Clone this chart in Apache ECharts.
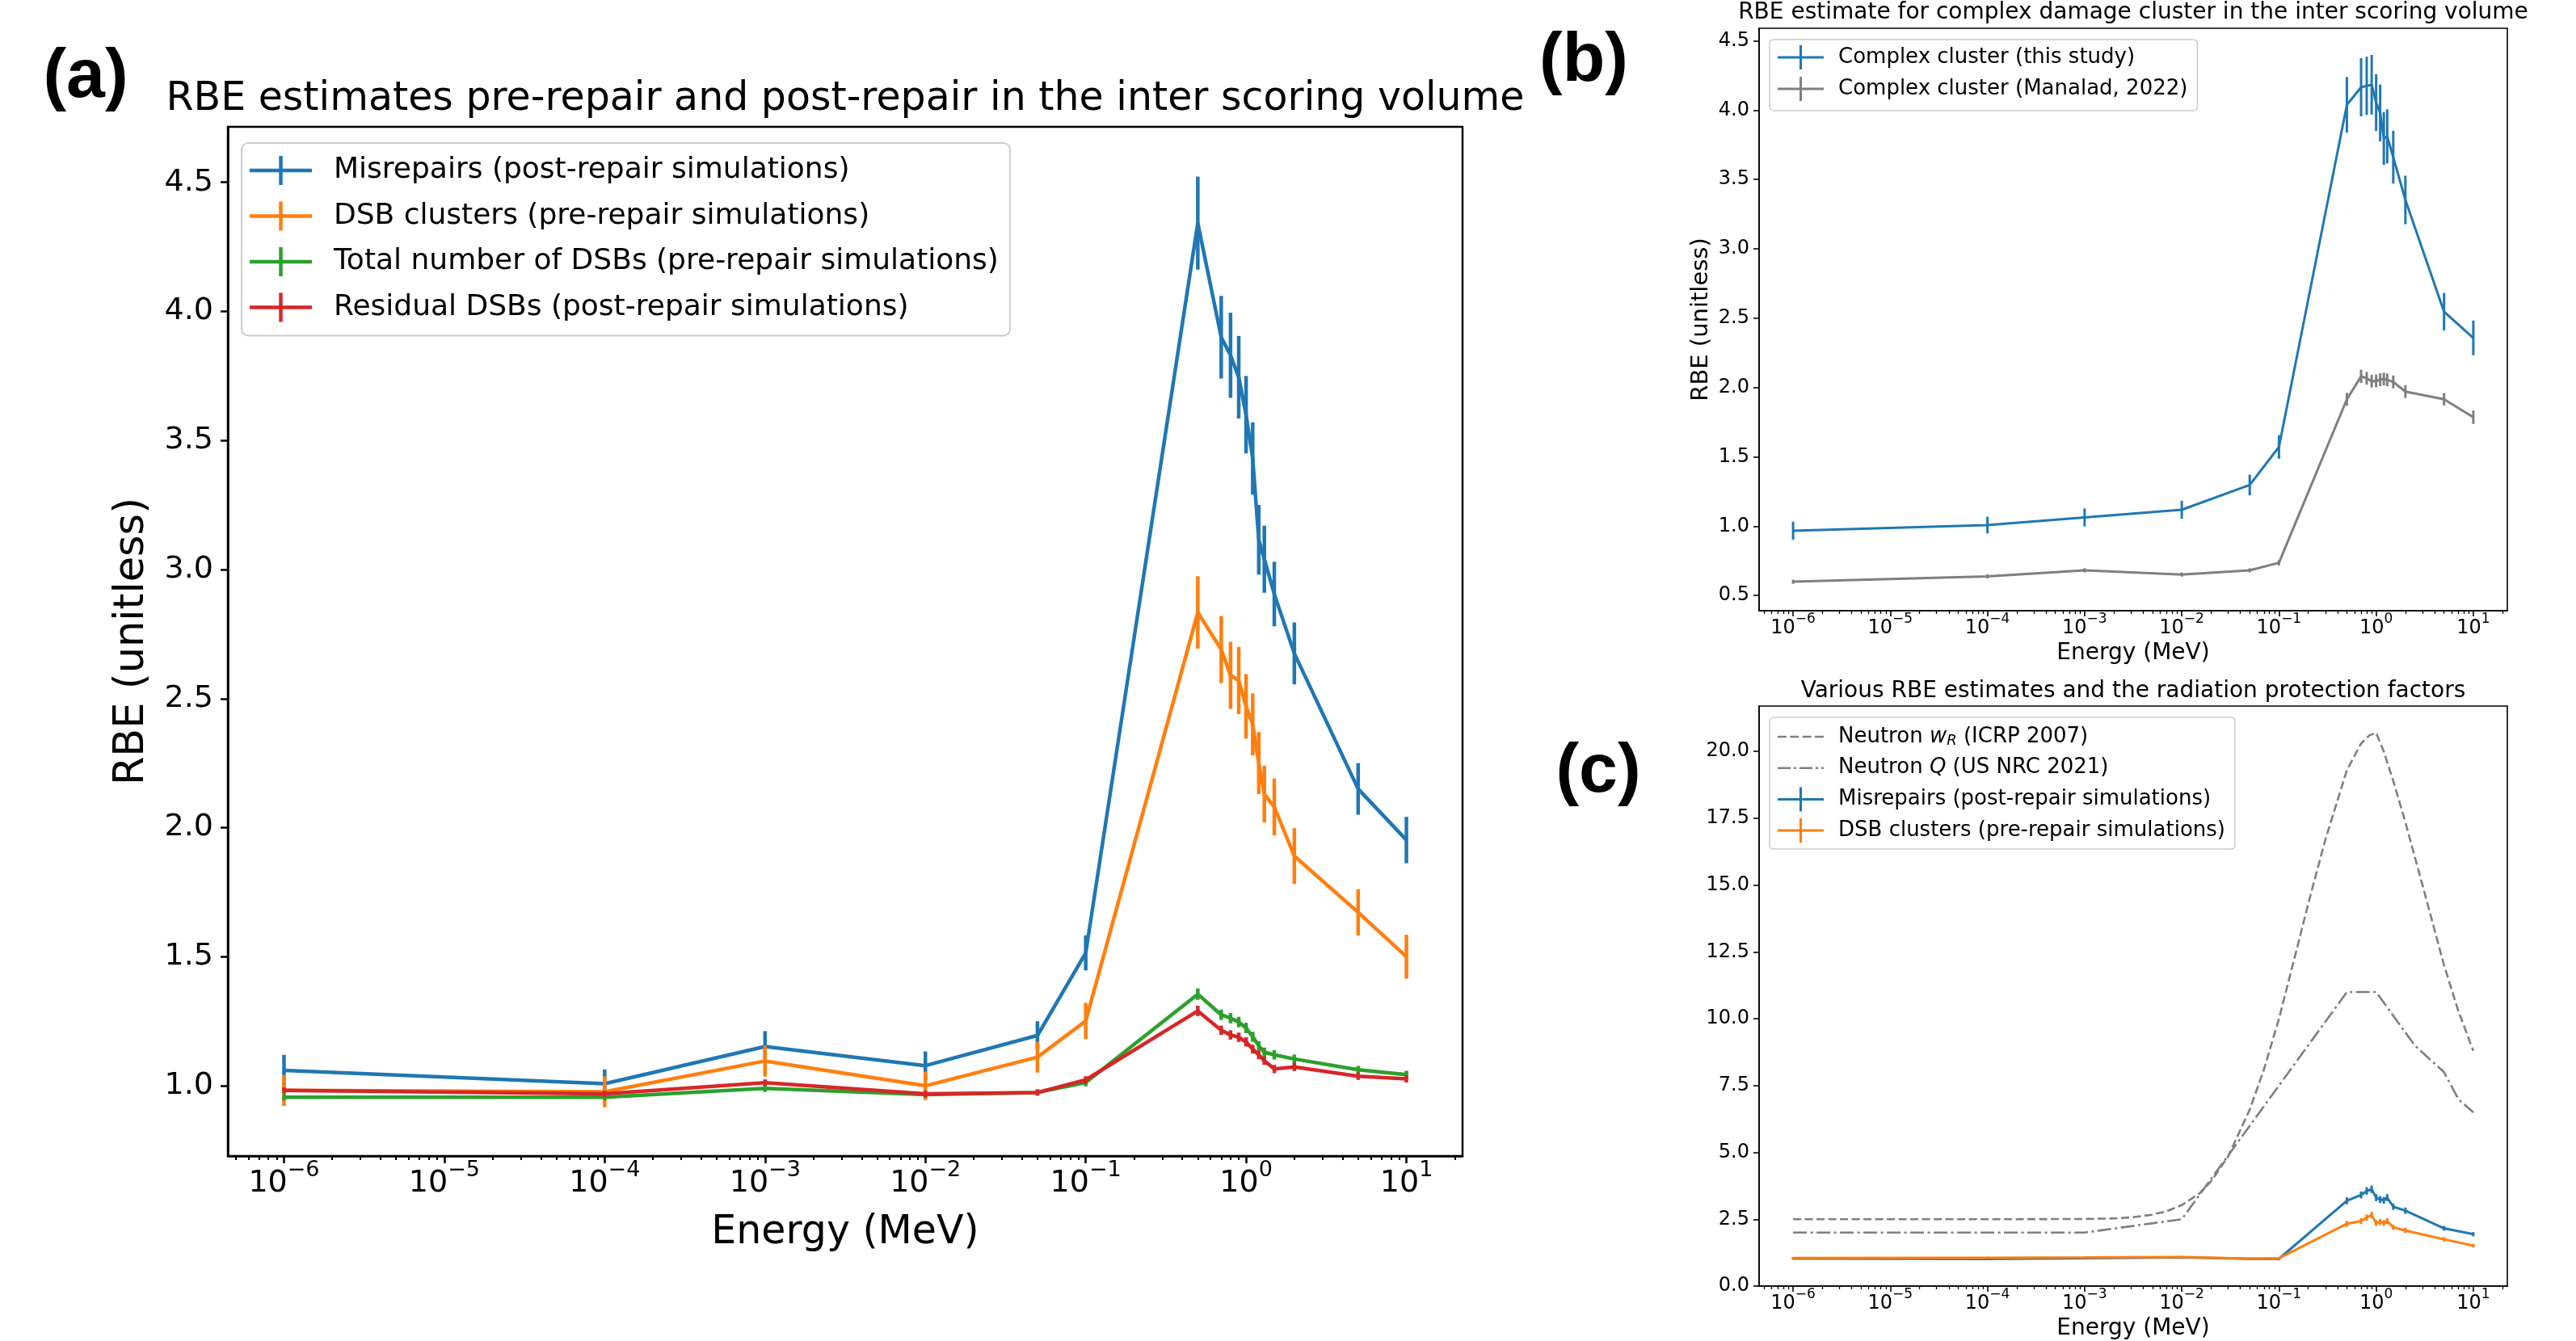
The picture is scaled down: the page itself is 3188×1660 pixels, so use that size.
<!DOCTYPE html>
<html>
<head>
<meta charset="utf-8">
<script src="https://cdn.jsdelivr.net/npm/echarts@6.0.0/dist/echarts.min.js"></script>
<style>
html,body{margin:0;padding:0;background:#fff;}
#chart{width:3188px;height:1660px;}
</style>
</head>
<body>
<div id="chart"></div>
<script>
// ---------------- DATA ----------------
const energy = [1e-6, 1e-4, 1e-3, 1e-2, 0.05, 0.1, 0.5, 0.7, 0.8, 0.9, 1.0, 1.1, 1.2, 1.3, 1.5, 2, 5, 10];

// Panel (a)
const misrepairsA     = [1.060, 1.008, 1.152, 1.078, 1.195, 1.515, 4.342, 3.900, 3.830, 3.745, 3.600, 3.430, 3.115, 3.040, 2.905, 2.675, 2.150, 1.952];
const misrepairsAErr  = [0.060, 0.055, 0.060, 0.055, 0.055, 0.068, 0.180, 0.160, 0.165, 0.160, 0.150, 0.140, 0.135, 0.130, 0.125, 0.120, 0.100, 0.090];
const dsbClustersA    = [0.982, 0.977, 1.096, 1.000, 1.111, 1.251, 2.834, 2.690, 2.590, 2.570, 2.470, 2.400, 2.250, 2.130, 2.080, 1.890, 1.672, 1.500];
const dsbClustersAErr = [0.060, 0.060, 0.060, 0.055, 0.060, 0.070, 0.140, 0.130, 0.130, 0.130, 0.125, 0.120, 0.120, 0.110, 0.110, 0.108, 0.090, 0.085];
const totalDsbA       = [0.956, 0.956, 0.990, 0.966, 0.974, 1.013, 1.355, 1.275, 1.262, 1.247, 1.224, 1.190, 1.155, 1.130, 1.120, 1.104, 1.062, 1.043];
const totalDsbAErr    = [0.012, 0.012, 0.014, 0.012, 0.012, 0.015, 0.022, 0.020, 0.020, 0.020, 0.020, 0.019, 0.018, 0.018, 0.018, 0.017, 0.015, 0.015];
const residualDsbA    = [0.982, 0.969, 1.012, 0.969, 0.974, 1.023, 1.290, 1.215, 1.197, 1.188, 1.170, 1.142, 1.120, 1.097, 1.065, 1.073, 1.037, 1.027];
const residualDsbAErr = [0.012, 0.012, 0.013, 0.012, 0.012, 0.014, 0.020, 0.018, 0.018, 0.018, 0.018, 0.017, 0.017, 0.016, 0.016, 0.016, 0.014, 0.014];

// Panel (b)
const complexThis       = [0.967, 1.008, 1.063, 1.118, 1.297, 1.571, 4.038, 4.165, 4.175, 4.183, 4.054, 3.980, 3.795, 3.810, 3.660, 3.352, 2.546, 2.357];
const complexThisErr    = [0.065, 0.060, 0.065, 0.065, 0.075, 0.085, 0.200, 0.210, 0.210, 0.215, 0.205, 0.205, 0.190, 0.195, 0.190, 0.175, 0.135, 0.125];
const complexManalad    = [0.599, 0.637, 0.681, 0.651, 0.681, 0.736, 1.915, 2.080, 2.066, 2.045, 2.047, 2.056, 2.060, 2.055, 2.040, 1.970, 1.915, 1.785];
const complexManaladErr = [0.015, 0.015, 0.015, 0.015, 0.015, 0.020, 0.046, 0.048, 0.046, 0.046, 0.046, 0.046, 0.046, 0.046, 0.046, 0.046, 0.045, 0.048];

// Panel (c)
const misrepairsC     = [1.03, 1.01, 1.04, 1.07, 1.02, 1.02, 3.19, 3.41, 3.56, 3.62, 3.31, 3.24, 3.21, 3.31, 2.97, 2.82, 2.16, 1.94];
const misrepairsCErr  = [0.04, 0.04, 0.04, 0.04, 0.04, 0.04, 0.13, 0.13, 0.14, 0.14, 0.13, 0.13, 0.13, 0.13, 0.12, 0.12, 0.09, 0.08];
const dsbClustersC    = [1.05, 1.06, 1.07, 1.09, 1.03, 1.04, 2.33, 2.43, 2.56, 2.66, 2.36, 2.40, 2.36, 2.43, 2.20, 2.08, 1.75, 1.51];
const dsbClustersCErr = [0.04, 0.04, 0.04, 0.04, 0.04, 0.04, 0.11, 0.11, 0.12, 0.12, 0.11, 0.11, 0.11, 0.11, 0.10, 0.10, 0.08, 0.07];
const energyWR  = [1e-6, 1e-5, 1e-4, 1e-3, 2e-3, 3e-3, 5e-3, 7e-3, 1e-2, 1.5e-2, 2e-2, 3e-2, 5e-2, 7e-2, 0.1, 0.15, 0.2, 0.3, 0.5, 0.7, 0.85, 1.0, 1.2, 1.5, 2, 3, 5, 7, 10];
const neutronWR = [2.50, 2.50, 2.50, 2.51, 2.53, 2.57, 2.67, 2.80, 3.03, 3.45, 3.92, 4.85, 6.60, 8.10, 10.0, 12.5, 14.3, 16.7, 19.3, 20.3, 20.6, 20.7, 20.0, 18.9, 17.35, 15.0, 12.0, 10.3, 8.8];
const energyQ   = [1e-6, 1e-5, 1e-4, 1e-3, 1e-2, 0.1, 0.5, 1, 2.5, 5, 7, 10];
const neutronQ  = [2, 2, 2, 2, 2.5, 7.5, 11, 11, 9, 8, 7, 6.5];

// Tick labels
const xTickValues = [1e-6, 1e-5, 1e-4, 1e-3, 1e-2, 1e-1, 1, 10];
const yTicksA = [1.0, 1.5, 2.0, 2.5, 3.0, 3.5, 4.0, 4.5];
const yTicksB = [0.5, 1.0, 1.5, 2.0, 2.5, 3.0, 3.5, 4.0, 4.5];
const yTicksC = [0, 2.5, 5, 7.5, 10, 12.5, 15, 17.5, 20];

// Names / text
const NAME_MIS = 'Misrepairs (post-repair simulations)';
const NAME_CLU = 'DSB clusters (pre-repair simulations)';
const NAME_TOT = 'Total number of DSBs (pre-repair simulations)';
const NAME_RES = 'Residual DSBs (post-repair simulations)';
const NAME_THIS = 'Complex cluster (this study)';
const NAME_MAN = 'Complex cluster (Manalad, 2022)';
const NAME_WR = 'Neutron wR (ICRP 2007)';
const NAME_Q = 'Neutron Q (US NRC 2021)';

// ---------------- STYLE ----------------
const FONT = 'DejaVu Sans';
const C_BLUE = '#1f77b4', C_ORANGE = '#ff7f0e', C_GREEN = '#2ca02c', C_RED = '#d62728', C_GRAY = '#7f7f7f';
const X_MIN = Math.pow(10, -6.35), X_MAX = Math.pow(10, 1.35);
const minorTicks = [];
for (let k = -7; k <= 1; k++) for (let m = 2; m <= 9; m++) { const v = m * Math.pow(10, k); if (v >= X_MIN && v <= X_MAX) minorTicks.push(v); }

function expFmt(v) {
  const e = Math.round(Math.log10(v));
  return '{b|10}{s|' + (e < 0 ? '−' + (-e) : String(e)) + '}';
}
function expRich(fs) {
  const sf = Math.round(fs * 0.7);
  const pad = Math.round(fs * 0.3);
  return {
    b: {fontSize: fs, fontFamily: FONT, color: '#000', lineHeight: fs, padding: [pad, 0, 0, 0]},
    s: {fontSize: sf, fontFamily: FONT, color: '#000', lineHeight: sf, padding: [0, 0, fs + pad - sf, 0]}
  };
}

function xMain(gi, o) {
  return {
    type: 'log', logBase: 10, gridIndex: gi, min: X_MIN, max: X_MAX, position: 'bottom',
    axisLine: {show: true, onZero: false, lineStyle: {color: '#000', width: o.lw}},
    axisTick: {show: true, inside: false, length: o.tl, lineStyle: {color: '#000', width: o.tw}, customValues: xTickValues},
    axisLabel: {show: true, margin: o.lm, customValues: xTickValues, formatter: expFmt, rich: expRich(o.fs)},
    splitLine: {show: false}, minorTick: {show: false}, minorSplitLine: {show: false},
    name: o.name, nameLocation: 'middle', nameGap: o.ng,
    nameTextStyle: {fontSize: o.nf, fontFamily: FONT, color: '#000'}
  };
}
function xMinor(gi, o) {
  return {
    type: 'log', logBase: 10, gridIndex: gi, min: X_MIN, max: X_MAX, position: 'bottom',
    axisLine: {show: false},
    axisTick: {show: true, inside: false, length: o.ml, lineStyle: {color: '#000', width: o.mw}, customValues: minorTicks},
    axisLabel: {show: false}, splitLine: {show: false}
  };
}
function yAxisDef(gi, min, max, ticks, o) {
  return {
    type: 'value', gridIndex: gi, min: min, max: max,
    axisLine: {show: true, onZero: false, lineStyle: {color: '#000', width: o.lw}},
    axisTick: {show: true, inside: false, length: o.tl, lineStyle: {color: '#000', width: o.tw}, customValues: ticks},
    axisLabel: {show: true, margin: o.lm, customValues: ticks, fontSize: o.fs, fontFamily: FONT, color: '#000',
      formatter: v => Number(v).toFixed(1)},
    splitLine: {show: false},
    name: o.name || '', nameLocation: 'middle', nameGap: o.ng || 0,
    nameTextStyle: {fontSize: o.nf || 12, fontFamily: FONT, color: '#000'}
  };
}

function errRenderer(lw) {
  return function (params, api) {
    const x = api.value(0), lo = api.value(1), hi = api.value(2);
    const p1 = api.coord([x, lo]), p2 = api.coord([x, hi]);
    return {type: 'line', shape: {x1: p1[0], y1: p1[1], x2: p2[0], y2: p2[1]},
      style: {stroke: api.visual('color'), lineWidth: lw}};
  };
}
function errSeries(name, xs, ys, errs, color, xi, yi, lw, z) {
  return [
    {type: 'line', name: name, xAxisIndex: xi, yAxisIndex: yi, z: z,
     data: xs.map((x, i) => [x, ys[i]]), symbol: 'none', showSymbol: false,
     lineStyle: {color: color, width: lw}, itemStyle: {color: color}, silent: true},
    {type: 'custom', name: name, xAxisIndex: xi, yAxisIndex: yi, z: z,
     data: xs.map((x, i) => [x, ys[i] - errs[i], ys[i] + errs[i]]),
     encode: {x: 0, y: [1, 2]}, renderItem: errRenderer(lw), itemStyle: {color: color}, silent: true}
  ];
}
function plusPath(w, h, t) {
  const a = h / 2 - t / 2, b = h / 2 + t / 2, c = w / 2 - t / 2, d = w / 2 + t / 2;
  return 'path://M0,' + a + ' L' + w + ',' + a + ' L' + w + ',' + b + ' L0,' + b + ' Z M' + c + ',0 L' + d + ',0 L' + d + ',' + h + ' L' + c + ',' + h + ' Z';
}
function segPath(segs, t) {
  let p = 'path://';
  segs.forEach(s => { p += 'M' + s[0] + ',0 L' + s[1] + ',0 L' + s[1] + ',' + t + ' L' + s[0] + ',' + t + ' Z '; });
  return p;
}

const oA = {lw: 2.5, tl: 9, tw: 2.5, ml: 5, mw: 2, lm: 10, fs: 38};
const oBC = {lw: 1.6, tl: 7, tw: 1.6, ml: 4, mw: 1.3, lm: 6, fs: 24};

const option = {
  animation: false,
  backgroundColor: '#ffffff',
  textStyle: {fontFamily: FONT},
  title: [
    {text: '(a)', left: 106, top: 96, textAlign: 'center', textVerticalAlign: 'middle', padding: 0,
     textStyle: {fontFamily: 'Liberation Sans', fontWeight: 'bold', fontSize: 86, color: '#000'}},
    {text: '(b)', left: 1960, top: 76, textAlign: 'center', textVerticalAlign: 'middle', padding: 0,
     textStyle: {fontFamily: 'Liberation Sans', fontWeight: 'bold', fontSize: 86, color: '#000'}},
    {text: '(c)', left: 1978, top: 956, textAlign: 'center', textVerticalAlign: 'middle', padding: 0,
     textStyle: {fontFamily: 'Liberation Sans', fontWeight: 'bold', fontSize: 86, color: '#000'}},
    {text: 'RBE estimates pre-repair and post-repair in the inter scoring volume', left: 1046, top: 123,
     textAlign: 'center', textVerticalAlign: 'middle', padding: 0,
     textStyle: {fontFamily: FONT, fontWeight: 'normal', fontSize: 49, color: '#000'}},
    {text: 'RBE estimate for complex damage cluster in the inter scoring volume', left: 2640, top: 16,
     textAlign: 'center', textVerticalAlign: 'middle', padding: 0,
     textStyle: {fontFamily: FONT, fontWeight: 'normal', fontSize: 28, color: '#000'}},
    {text: 'Various RBE estimates and the radiation protection factors', left: 2640, top: 856,
     textAlign: 'center', textVerticalAlign: 'middle', padding: 0,
     textStyle: {fontFamily: FONT, fontWeight: 'normal', fontSize: 28, color: '#000'}}
  ],
  grid: [
    {left: 282, top: 157, width: 1528, height: 1274, show: true, borderColor: '#000', borderWidth: 2.5, backgroundColor: 'rgba(0,0,0,0)'},
    {left: 2177, top: 35, width: 926, height: 721, show: true, borderColor: '#000', borderWidth: 1.6, backgroundColor: 'rgba(0,0,0,0)'},
    {left: 2177, top: 874, width: 926, height: 722, show: true, borderColor: '#000', borderWidth: 1.6, backgroundColor: 'rgba(0,0,0,0)'}
  ],
  xAxis: [
    xMain(0, Object.assign({name: 'Energy (MeV)', ng: 71, nf: 49}, oA)),
    xMinor(0, oA),
    xMain(1, Object.assign({name: 'Energy (MeV)', ng: 39, nf: 28}, oBC)),
    xMinor(1, oBC),
    xMain(2, Object.assign({name: 'Energy (MeV)', ng: 39, nf: 28}, oBC)),
    xMinor(2, oBC)
  ],
  yAxis: [
    yAxisDef(0, 0.728, 4.715, yTicksA, Object.assign({}, oA, {lm: 18, name: 'RBE (unitless)', ng: 93, nf: 51})),
    yAxisDef(1, 0.39, 4.59, yTicksB, Object.assign({}, oBC, {lm: 12, name: 'RBE (unitless)', ng: 57, nf: 29})),
    yAxisDef(2, 0, 21.7, yTicksC, Object.assign({}, oBC, {lm: 12}))
  ],
  legend: [
    {orient: 'vertical', left: 299, top: 177, padding: [14, 14, 15, 10], itemWidth: 77, itemHeight: 36, itemGap: 16.5,
     backgroundColor: 'rgba(255,255,255,0.8)', borderColor: '#cccccc', borderWidth: 2, borderRadius: 8,
     selectedMode: false,
     textStyle: {fontSize: 36, fontFamily: FONT, color: '#000', lineHeight: 40, padding: [0, 0, 0, 22]},
     data: [
       {name: NAME_MIS, icon: plusPath(77, 36, 4.5)},
       {name: NAME_CLU, icon: plusPath(77, 36, 4.5)},
       {name: NAME_TOT, icon: plusPath(77, 36, 4.5)},
       {name: NAME_RES, icon: plusPath(77, 36, 4.5)}
     ]},
    {orient: 'vertical', left: 2190, top: 49, padding: [7, 12, 12, 10], itemWidth: 57, itemHeight: 30, itemGap: 9,
     backgroundColor: 'rgba(255,255,255,0.8)', borderColor: '#cccccc', borderWidth: 1.5, borderRadius: 5,
     selectedMode: false,
     textStyle: {fontSize: 26, fontFamily: FONT, color: '#000', lineHeight: 30, padding: [0, 0, 0, 13]},
     data: [
       {name: NAME_THIS, icon: plusPath(57, 30, 3)},
       {name: NAME_MAN, icon: plusPath(57, 30, 3)}
     ]},
    {orient: 'vertical', left: 2190, top: 888, padding: [7, 12, 6, 10], itemWidth: 57, itemHeight: 30, itemGap: 4.7,
     backgroundColor: 'rgba(255,255,255,0.8)', borderColor: '#cccccc', borderWidth: 1.5, borderRadius: 5,
     selectedMode: false,
     formatter: function (name) {
       if (name === NAME_WR) return 'Neutron {it|w}{sub|R} (ICRP 2007)';
       if (name === NAME_Q) return 'Neutron {it|Q} (US NRC 2021)';
       return name;
     },
     textStyle: {fontSize: 26, fontFamily: FONT, color: '#000', lineHeight: 34, padding: [0, 0, 0, 13],
       rich: {
         it: {fontSize: 26, fontFamily: FONT, fontStyle: 'italic', color: '#000', lineHeight: 34},
         sub: {fontSize: 18, fontFamily: FONT, fontStyle: 'italic', color: '#000', lineHeight: 18, verticalAlign: 'bottom', padding: [0, 0, 3, 0]}
       }},
     data: [
       {name: NAME_WR, icon: segPath([[0, 11], [15.3, 26.3], [30.7, 41.7], [46, 57]], 2.6)},
       {name: NAME_Q, icon: segPath([[0, 16], [20, 23], [27, 43], [47, 50], [54, 57]], 2.6)},
       {name: NAME_MIS, icon: plusPath(57, 30, 3)},
       {name: NAME_CLU, icon: plusPath(57, 30, 3)}
     ]}
  ],
  series: [].concat(
    errSeries(NAME_MIS, energy, misrepairsA, misrepairsAErr, C_BLUE, 0, 0, 4.5, 2),
    errSeries(NAME_CLU, energy, dsbClustersA, dsbClustersAErr, C_ORANGE, 0, 0, 4.5, 3),
    errSeries(NAME_TOT, energy, totalDsbA, totalDsbAErr, C_GREEN, 0, 0, 4.5, 4),
    errSeries(NAME_RES, energy, residualDsbA, residualDsbAErr, C_RED, 0, 0, 4.5, 5),

    errSeries(NAME_THIS, energy, complexThis, complexThisErr, C_BLUE, 2, 1, 3, 2),
    errSeries(NAME_MAN, energy, complexManalad, complexManaladErr, C_GRAY, 2, 1, 3, 3),

    [
      {type: 'line', name: NAME_WR, xAxisIndex: 4, yAxisIndex: 2, z: 2, symbol: 'none', showSymbol: false,
       data: energyWR.map((x, i) => [x, neutronWR[i]]),
       lineStyle: {color: C_GRAY, width: 2.6, type: [10, 4.5]}, itemStyle: {color: C_GRAY}, silent: true},
      {type: 'line', name: NAME_Q, xAxisIndex: 4, yAxisIndex: 2, z: 2, symbol: 'none', showSymbol: false,
       data: energyQ.map((x, i) => [x, neutronQ[i]]),
       lineStyle: {color: C_GRAY, width: 2.6, type: [17, 4.5, 3, 4.5]}, itemStyle: {color: C_GRAY}, silent: true}
    ],
    errSeries(NAME_MIS, energy, misrepairsC, misrepairsCErr, C_BLUE, 4, 2, 3, 3),
    errSeries(NAME_CLU, energy, dsbClustersC, dsbClustersCErr, C_ORANGE, 4, 2, 3, 4)
  )
};

const chart = echarts.init(document.getElementById('chart'), null, {renderer: 'canvas', width: 3188, height: 1660});
chart.setOption(option);
</script>
</body>
</html>
